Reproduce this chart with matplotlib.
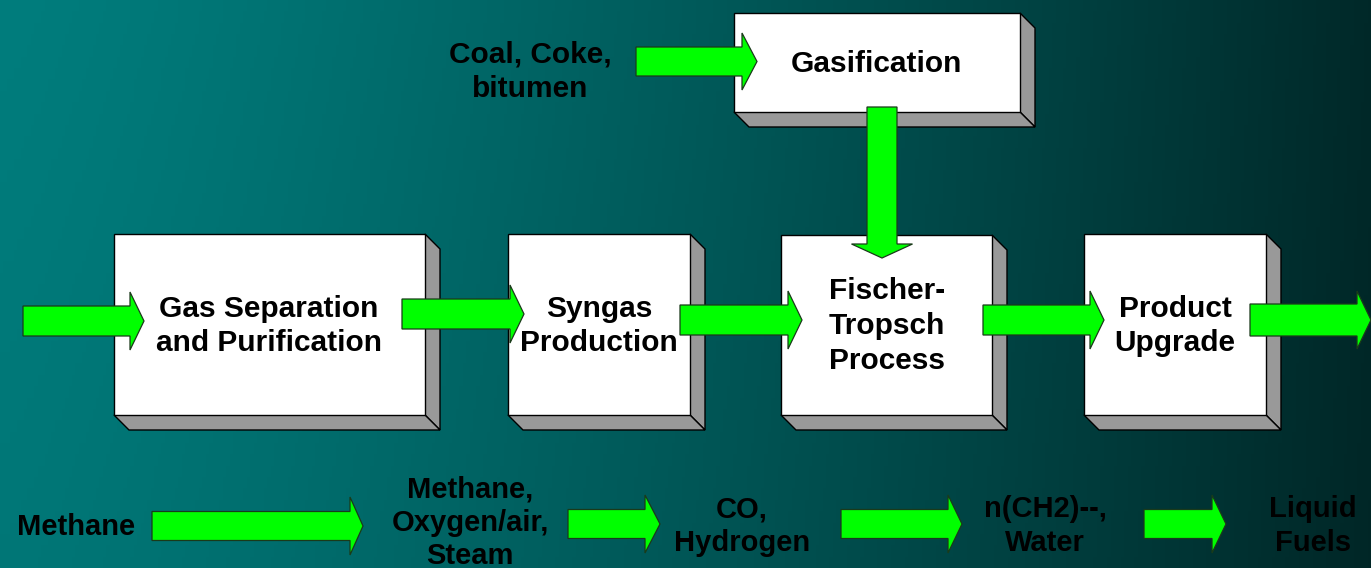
import matplotlib
matplotlib.use("Agg")
import matplotlib.pyplot as plt
import numpy as np
from matplotlib.patches import Polygon

# ---- content ----
box_labels = ["Gasification", "Gas Separation\nand Purification", "Syngas\nProduction",
              "Fischer-\nTropsch\nProcess", "Product\nUpgrade"]
box_x0 = [734, 114, 508, 781, 1084]
box_x1 = [1020, 425, 690, 992, 1266]
box_y0 = [13, 234, 234, 235, 234]
box_y1 = [112, 415, 415, 415, 415]
box_text_x = [876, 269, 599, 887, 1175]
box_text_y = [64, 326, 326, 326, 326]

feed_label = "Coal, Coke,\nbitumen"
stream_labels = ["Methane", "Methane,\nOxygen/air,\nSteam", "CO,\nHydrogen", "n(CH2)--,\nWater", "Liquid\nFuels"]
stream_x = [76, 470, 742, 1045, 1313]
stream_y = [527, 523, 526, 526, 526]

# horizontal arrows: (x_start, x_shaft_end, x_tip, y_center, shaft_half, head_half)
h_arrows = [
    (23, 130, 144, 321, 15, 29),
    (402, 510, 524, 314, 15, 29),
    (680, 788, 802, 320, 15, 29),
    (983, 1090, 1104, 320, 15, 29),
    (1250, 1357, 1371, 320, 16, 29),
    (636, 742, 757, 61.5, 14.5, 28.5),
    (152, 350, 363, 526, 14.5, 29),
    (568, 645, 660, 524, 14.5, 29),
    (841, 948, 962, 524, 14.5, 29),
    (1144, 1212, 1226, 524, 14.5, 29),
]
# vertical arrow: (x_center, y_start, y_shaft_end, y_tip, shaft_half, head_half)
v_arrows = [(882, 107, 244, 258, 15, 30.5)]

W, H = 1371, 568
fig = plt.figure(figsize=(W / 100, H / 100), dpi=100)
ax = fig.add_axes([0, 0, 1, 1])
ax.set_xlim(0, W)
ax.set_ylim(H, 0)
ax.axis("off")

# background gradient
xs = np.linspace(0, 1, 400)
left = np.array([0.0, 0.49, 0.49])
right = np.array([0.0, 0.16, 0.16])
t = xs ** 1.3
grad = (left[None, :] * (1 - t[:, None]) + right[None, :] * t[:, None])
ys = np.linspace(0, 1, 50)
img = np.empty((50, 400, 3))
for i, yy in enumerate(ys):
    img[i] = grad * (1 - 0.05 * yy)
ax.imshow(img, extent=[0, W, H, 0], aspect="auto", zorder=0)

d = 15
font = "Liberation Sans"
for lab, x0, x1, y0, y1, tx, ty in zip(box_labels, box_x0, box_x1, box_y0, box_y1,
                                       box_text_x, box_text_y):
    side = Polygon([(x1, y0), (x1 + d, y0 + d), (x1 + d, y1 + d), (x1, y1)],
                   closed=True, fc="#999999", ec="black", lw=1.0, zorder=2)
    bottom = Polygon([(x0, y1), (x1, y1), (x1 + d, y1 + d), (x0 + d, y1 + d)],
                     closed=True, fc="#999999", ec="black", lw=1.0, zorder=2)
    front = Polygon([(x0, y0), (x1, y0), (x1, y1), (x0, y1)], closed=True,
                    fc="white", ec="black", lw=1.0, zorder=3)
    for p in (side, bottom, front):
        ax.add_patch(p)
    ax.text(tx, ty, lab, ha="center", va="center", fontsize=21.5, fontweight="bold",
            family=font, linespacing=1.3, zorder=6, color="black")

for (xs0, xs1, xt, yc, sh, hh) in h_arrows:
    pts = [(xs0, yc - sh), (xs1, yc - sh), (xs1, yc - hh), (xt, yc),
           (xs1, yc + hh), (xs1, yc + sh), (xs0, yc + sh)]
    ax.add_patch(Polygon(pts, closed=True, fc="#00ff00", ec="#1a3a1a", lw=0.9, zorder=5))

for (xc, ys0, ys1, yt, sh, hh) in v_arrows:
    pts = [(xc - sh, ys0), (xc - sh, ys1), (xc - hh, ys1), (xc, yt),
           (xc + hh, ys1), (xc + sh, ys1), (xc + sh, ys0)]
    ax.add_patch(Polygon(pts, closed=True, fc="#00ff00", ec="#1a3a1a", lw=0.9, zorder=5))

ax.text(530, 72, feed_label, ha="center", va="center", fontsize=21.5,
        fontweight="bold", family=font, linespacing=1.28, zorder=6)

for lab, x, y in zip(stream_labels, stream_x, stream_y):
    ax.text(x, y, lab, ha="center", va="center", fontsize=21,
            fontweight="bold", family=font, linespacing=1.25, zorder=6)

fig.savefig("out.png", dpi=100)
